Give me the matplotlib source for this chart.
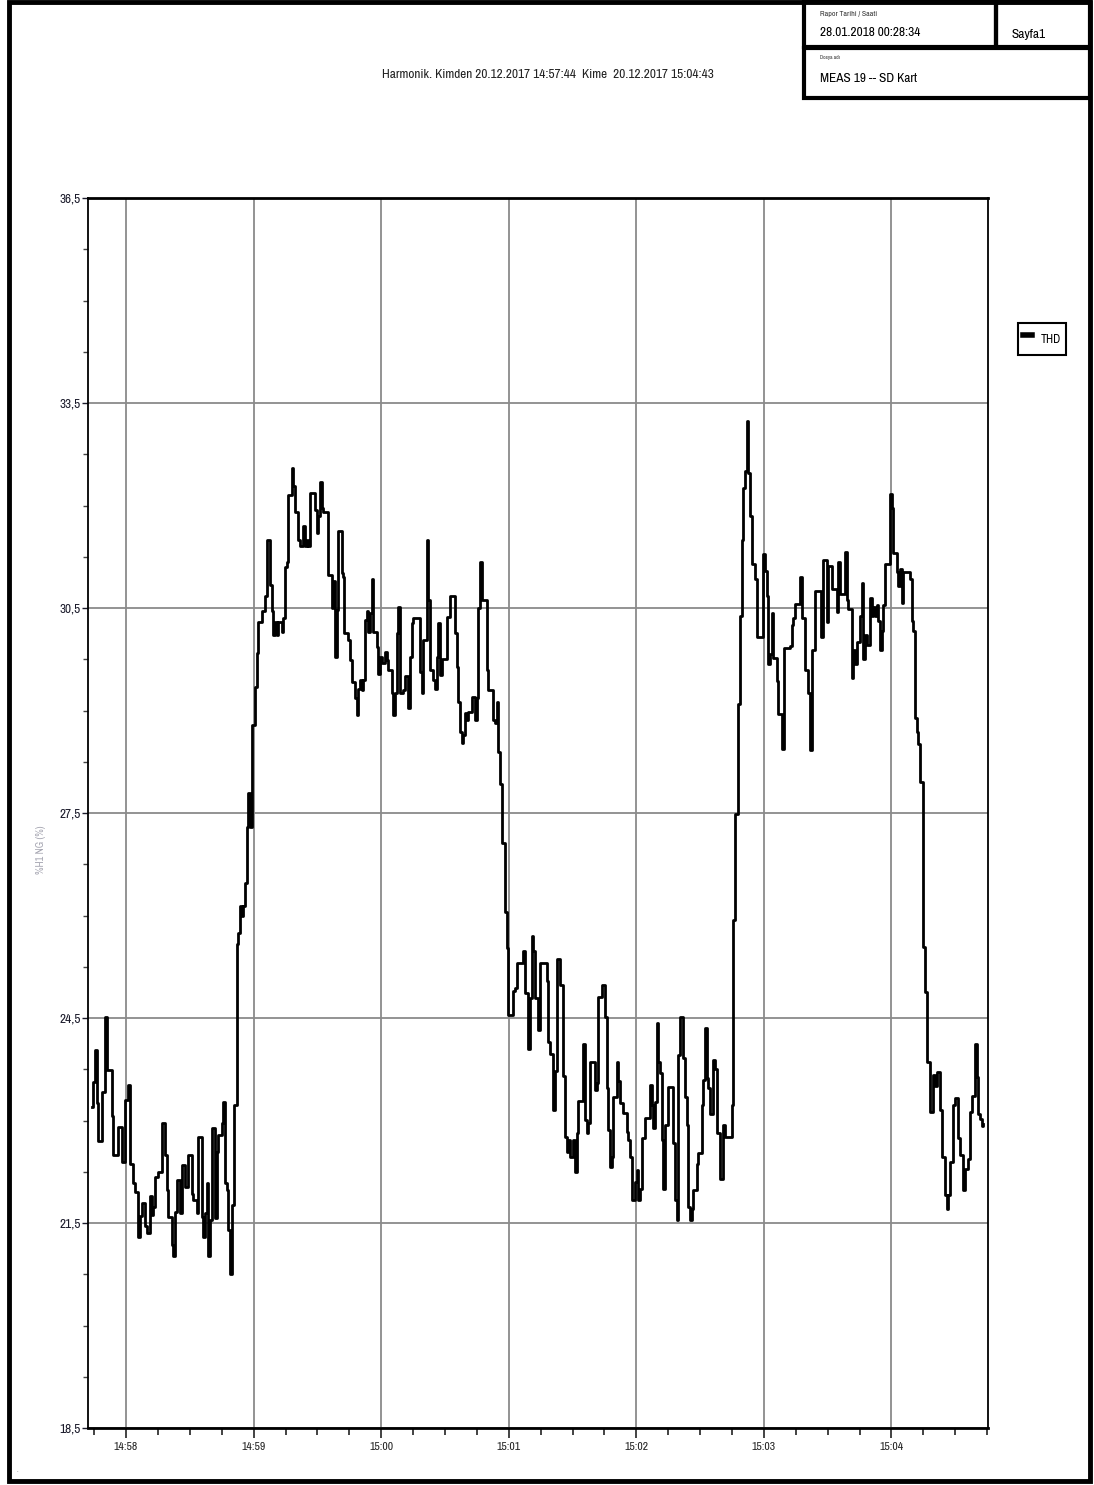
import matplotlib
matplotlib.use("Agg")
import matplotlib.pyplot as plt
import matplotlib.dates as mdates
import matplotlib.ticker as mticker
from matplotlib import font_manager
from matplotlib.patches import Rectangle
import numpy as np
import pandas as pd


start = pd.Timestamp("2017-12-20 14:57:44")

# seconds after 14:57:44 and THD value (%)
t_sec = [
    0.0, 0.6, 1.4, 2.2, 3.0, 4.6, 6.1, 6.9, 9.3, 10.0, 12.4, 14.0, 15.5, 17.1, 17.9,
    19.4, 20.2, 21.7, 22.6, 23.4, 24.9, 25.7, 27.3, 28.1, 28.8, 29.6, 31.2, 32.8, 34.3,
    35.1, 35.9, 37.5, 38.2, 39.0, 39.8, 41.4, 42.2, 43.7, 45.3, 46.9, 47.6, 49.2, 50.0,
    51.6, 52.3, 53.1, 53.9, 54.7, 55.5, 56.3, 57.8, 58.6, 59.4, 61.0, 61.7, 62.5, 63.3,
    64.1, 64.9, 65.7, 66.8,
    68.0, 68.8, 69.6, 70.4, 71.2, 71.9, 72.8, 73.5, 74.3, 75.1, 76.7, 77.5, 78.2, 79.8,
    81.4, 82.2, 83.7, 84.5, 85.3, 86.1, 86.9, 87.6, 89.2, 90.0, 90.8, 91.6, 92.3, 93.9,
    94.7, 95.5, 97.0, 97.8, 99.4, 100.2, 101.0, 101.7, 102.5, 104.9, 105.7, 106.4, 107.2,
    108.0, 108.8, 111.1, 112.7, 113.5, 114.3, 115.1, 115.8, 117.4, 118.2, 118.6, 120.5,
    121.3, 122.1, 123.7, 124.5, 125.2, 126.0, 126.8, 127.6, 128.4, 129.2, 129.9, 130.7,
    131.5, 132.3, 133.9, 134.6, 135.4, 136.2, 137.8, 138.6, 139.3, 140.9, 141.7, 142.5,
    143.3, 144.0, 144.8, 146.4, 147.2, 148.7, 149.5, 150.3, 151.1, 154.3, 155.0, 155.8,
    157.4, 158.2, 159.0, 160.5, 161.3, 162.1, 162.9, 163.7, 164.5, 166.8, 168.4, 170.7,
    171.5, 172.3, 173.1, 173.9, 174.6, 175.4, 176.2, 177.0, 178.6, 180.1, 180.9, 181.7,
    182.5, 183.3, 185.6, 186.4, 188.7, 189.5, 190.3, 191.1,
    191.9, 192.7, 194.2, 195.0, 195.8, 198.1, 198.9, 199.7, 202.8, 203.6, 205.2, 206.0,
    206.8, 207.5, 208.3, 209.9, 210.7, 213.8, 214.6, 215.4, 216.9, 217.7, 218.5, 220.1,
    221.6, 222.4, 223.2, 224.0, 224.8, 226.3, 227.1, 227.9, 228.7, 231.0, 231.8, 232.6,
    233.4, 234.2, 236.5, 237.3, 238.1, 239.7, 241.3, 242.0, 242.8, 243.6, 244.4, 245.2,
    246.8, 247.5, 248.3, 249.9, 251.5, 252.2, 253.0, 253.8, 255.4, 256.2, 256.9, 257.7,
    258.5, 260.1, 262.4, 263.2, 264.0, 264.8, 265.6, 266.3, 267.1, 267.9, 268.7, 269.5,
    271.0, 273.4, 274.2, 275.0, 275.7, 276.5, 278.1, 278.9, 279.7, 280.4, 281.2, 282.0,
    282.8, 284.4, 285.1, 286.7, 287.5, 288.3, 289.1, 289.8, 290.6, 292.2, 293.0, 293.8,
    295.4, 296.9, 297.7, 300.8,
    301.6, 302.4, 304.0, 304.7, 305.5, 306.3, 307.1, 307.9, 308.7, 309.4, 310.2, 311.8,
    312.6, 315.7, 316.5, 317.3, 318.0, 318.8, 319.6, 320.4, 322.0, 322.7, 324.3, 325.6,
    328.2, 329.0, 329.8, 330.6, 333.0, 333.8, 335.3, 336.9, 337.7, 338.8, 340.0, 342.9,
    343.9, 345.5, 346.3, 347.9, 350.2, 351.0, 351.8, 354.2, 354.9, 355.7, 357.3, 358.0,
    358.8, 359.6, 361.2, 362.0, 362.7, 363.5, 364.3, 365.9, 366.7, 367.4, 368.2, 369.0,
    369.8, 370.6, 371.4, 372.1, 372.9, 375.3, 376.1, 376.5, 378.4, 379.2, 380.0, 380.8,
    381.5, 384.7, 385.5, 386.3, 387.0, 387.8, 388.6, 389.4,
    390.9, 391.7, 392.5, 394.1, 395.7, 396.4, 397.2, 398.8, 399.6, 401.1, 401.9, 402.7,
    403.5, 405.0, 405.8, 407.4, 408.2, 409.8, 410.5, 412.1, 412.9, 413.7, 415.3, 416.0,
    416.8, 417.6, 418.4, 419.2,
]
thd = [
    23.2, 23.57, 24.03, 23.25, 22.7, 23.42, 24.52, 23.74, 23.06, 22.5, 22.9, 22.4, 23.3, 23.52, 22.37,
    22.08, 21.96, 21.3, 21.6, 21.79, 21.45, 21.35, 21.89, 21.62, 21.74, 22.18, 22.25, 22.96, 22.49,
    21.98, 21.59, 21.18, 21.01, 21.66, 22.13, 21.64, 22.35, 22.03, 22.49, 21.93, 21.84, 21.64, 22.76,
    21.59, 21.3, 21.64, 22.08, 21.01, 21.54, 22.89, 21.57, 22.54, 22.79, 22.96, 23.27, 22.08, 21.98,
    21.4, 20.76, 21.76, 23.23,
    25.58, 25.74, 26.14, 26.0, 26.14, 26.48, 27.3, 27.8, 27.3, 28.79, 29.35, 29.84, 30.3, 30.45,
    30.67, 31.5, 30.83, 30.46, 30.1, 30.3, 30.1, 30.3, 30.15, 30.36, 31.1, 31.17, 32.15, 32.55,
    32.28, 31.9, 31.5, 31.41, 31.7, 31.41, 31.5, 31.41, 32.18, 31.94, 31.6, 31.85, 32.34,
    31.97, 31.9, 30.98, 30.5, 30.9, 29.79, 30.47, 31.62, 31.01, 30.96, 30.13, 30.03,
    29.74, 29.42, 29.18, 28.93, 29.32, 29.45, 29.3, 29.45, 30.32, 30.45, 30.15, 30.42,
    30.93, 30.15, 29.93, 29.54, 29.79, 29.69, 29.86, 29.74, 29.6, 29.25, 28.93, 29.25,
    30.13, 30.52, 29.25, 29.3, 29.5, 29.03, 29.79, 30.28, 30.35, 29.57, 29.25, 30.03,
    31.5, 30.62, 29.6, 29.45, 29.32, 29.79, 30.28, 29.52, 29.76, 30.37, 30.67, 30.13,
    29.64, 29.13, 28.69, 28.52, 28.64, 28.96, 28.86, 28.98, 29.2, 28.86, 29.18, 30.5,
    31.18, 30.62, 29.6, 29.3, 28.86, 28.81, 29.13, 28.4,
    27.93, 27.06, 26.05, 25.53, 24.54, 24.89, 24.94, 25.31, 25.48, 24.86, 24.05, 24.79,
    25.7, 25.48, 24.79, 24.32, 25.31, 25.04, 24.15, 23.97, 23.16, 23.73, 25.36, 24.99,
    23.65, 22.76, 22.54, 22.71, 22.46, 22.71, 22.24, 22.81, 23.28, 24.12, 23.01, 22.81,
    22.96, 23.85, 23.45, 23.55, 24.81, 24.99, 24.52, 23.48, 22.86, 22.32, 22.46, 23.35,
    23.85, 23.58, 23.26, 23.11, 22.83, 22.71, 22.46, 21.84, 22.1, 22.27, 21.84, 22.0,
    22.74, 23.03, 23.52, 23.23, 22.89, 23.27, 24.42, 23.86, 23.69, 22.71, 22.0, 22.93,
    23.49, 22.67, 21.84, 21.54, 23.96, 24.52, 23.91, 23.35, 22.93, 21.74, 21.54, 21.71,
    21.98, 22.37, 22.52, 23.23, 23.59, 24.35, 23.62, 23.47, 23.1, 23.88, 23.76, 22.81,
    22.15, 22.93, 22.76, 23.23,
    25.94, 27.49, 29.09, 30.39, 31.49, 32.25, 32.5, 33.23, 32.47, 31.85, 31.15, 30.92,
    30.08, 31.29, 31.04, 30.67, 29.68, 29.82, 30.42, 29.77, 29.43, 28.95, 28.44, 29.91,
    29.94, 30.25, 30.36, 30.56, 30.95, 30.36, 29.6, 29.26, 28.42, 29.88, 30.75, 30.08,
    31.2, 30.3, 31.12, 30.78, 30.44, 31.18, 30.7, 31.32, 30.62, 30.48, 29.48, 29.89,
    29.68, 30.0, 30.38, 30.86, 29.75, 30.1, 29.96, 30.65, 30.38, 30.51, 30.38, 30.55,
    30.31, 29.89, 30.17, 30.55, 31.14, 32.17, 31.96, 31.31, 31.03, 30.82, 31.07, 30.58,
    31.03, 30.93, 30.31, 30.17, 28.89, 28.68, 28.51, 27.96,
    25.54, 24.88, 23.85, 23.12, 23.67, 23.5, 23.71, 23.15, 22.46, 21.91, 21.71, 21.91,
    22.4, 23.23, 23.33, 22.74, 22.5, 21.98, 22.29, 22.43, 23.12, 23.36, 24.12, 23.64,
    23.09, 23.02, 22.92, 22.95,
]

y_ticks = [18.5, 21.5, 24.5, 27.5, 30.5, 33.5, 36.5]
series_name = "THD"
y_label = "%H1 NG (%)"
title_text = "Harmonik. Kimden 20.12.2017 14:57:44  Kime  20.12.2017 15:04:43"
report_caption = "Rapor Tarihi / Saati"
report_date = "28.01.2018 00:28:34"
page_text = "Sayfa1"
file_caption = "Dosya adı"
file_name = "MEAS 19 -- SD Kart"

# a narrow face if one is installed, else Liberation Sans sized down to the same widths
names = sorted({f.name for f in font_manager.fontManager.ttflist})
narrow = next((n for n in names if "Narrow" in n), None)
if narrow is None:
    narrow = next((n for n in names if "Condensed" in n), "Liberation Sans")
plt.rcParams["font.family"] = [narrow, "DejaVu Sans"]

W, H = 1094, 1485
fig = plt.figure(figsize=(W / 100, H / 100), dpi=100)
fig.patch.set_facecolor("white")
renderer = fig.canvas.get_renderer()


def fx(px):
    return px / W


def fy(py):
    return 1 - py / H


def size_for(text, width_px, rotation=0):
    probe = fig.text(0, 0, text, fontsize=10, rotation=rotation)
    ext = probe.get_window_extent(renderer)
    probe.remove()
    span = ext.height if rotation else ext.width
    return 10 * width_px / span


def fitted_text(x, y, text, width_px, **kw):
    return fig.text(fx(x), fy(y), text, fontsize=size_for(text, width_px), **kw)


ax = fig.add_axes([fx(88), fy(1428), fx(988) - fx(88), fy(198) - fy(1428)])

times = (start + pd.to_timedelta(t_sec, unit="s")).to_pydatetime()
ax.step(times, thd, where="post", color="black", lw=2.0, label=series_name)

ax.set_xlim((start - pd.Timedelta(seconds=1.9)).to_pydatetime(),
            (start + pd.Timedelta(seconds=421.4)).to_pydatetime())
ax.set_ylim(y_ticks[0], y_ticks[-1])

ax.xaxis.set_major_locator(mdates.MinuteLocator())
ax.xaxis.set_minor_locator(mdates.SecondLocator(bysecond=[15, 30, 45]))
ax.xaxis.set_major_formatter(mdates.DateFormatter("%H:%M"))

ax.set_yticks(y_ticks)
ax.yaxis.set_minor_locator(mticker.FixedLocator(np.arange(y_ticks[0], y_ticks[-1], 0.75)))
ax.yaxis.set_major_formatter(mticker.FuncFormatter(lambda v, p: f"{v:.1f}".replace(".", ",")))

ax.grid(True, which="major", color="#8a8a8a", lw=1.3)
ax.set_axisbelow(True)

for side in ["left", "right"]:
    ax.spines[side].set_linewidth(1.3)
for side in ["top", "bottom"]:
    ax.spines[side].set_linewidth(2.0)

xs = size_for("14:58", 24)
ys = size_for("36,5", 21)
ax.tick_params(axis="x", which="major", length=7, width=1.2, pad=3, labelsize=xs,
               colors="#222222")
ax.tick_params(axis="x", which="minor", length=5, width=1.2, colors="#222222")
ax.tick_params(axis="y", which="major", length=4.3, width=1.0, pad=0.8, labelsize=ys,
               colors="#1c1c2c")
ax.tick_params(axis="y", which="minor", length=3.5, width=1.0, colors="#444444")

ax.set_ylabel(y_label, fontsize=size_for(y_label, 48, rotation=90), color="#a4a4b0")
ax.yaxis.set_label_coords(-0.047, 0.47)

leg = ax.legend(loc="upper left", bbox_to_anchor=(fx(1018), fy(323)),
                bbox_transform=fig.transFigure, borderaxespad=0, handlelength=0.8,
                handleheight=2.5, handletextpad=0.7, borderpad=0.4, fancybox=False,
                edgecolor="black", framealpha=1, fontsize=size_for(series_name, 20))
leg.get_frame().set_linewidth(1.5)
leg.get_lines()[0].set_linewidth(4)

fitted_text(548, 75, title_text, 330, ha="center", va="center", color="#222222")

# page frame and header boxes
fig.add_artist(Rectangle((fx(9), fy(1481)), fx(1090) - fx(9), fy(2) - fy(1481),
                         transform=fig.transFigure, fill=False, lw=3.5, ec="black"))
fig.add_artist(Rectangle((fx(804), fy(47)), fx(996) - fx(804), fy(2) - fy(47),
                         transform=fig.transFigure, fill=False, lw=3, ec="black"))
fig.add_artist(Rectangle((fx(996), fy(47)), fx(1090) - fx(996), fy(2) - fy(47),
                         transform=fig.transFigure, fill=False, lw=3, ec="black"))
fig.add_artist(Rectangle((fx(804), fy(98)), fx(1090) - fx(804), fy(48) - fy(98),
                         transform=fig.transFigure, fill=False, lw=3, ec="black"))

fitted_text(820, 14, report_caption, 57, va="center", color="#333333")
fitted_text(820, 33, report_date, 99, va="center")
fitted_text(1012, 34, page_text, 34, va="center")
fitted_text(820, 58, file_caption, 20, va="center", color="#333333")
fitted_text(820, 78, file_name, 97, va="center")
fig.text(fx(17), fy(1470), ".", fontsize=5, color="#888888", va="center")

fig.savefig("out.png", dpi=100)
